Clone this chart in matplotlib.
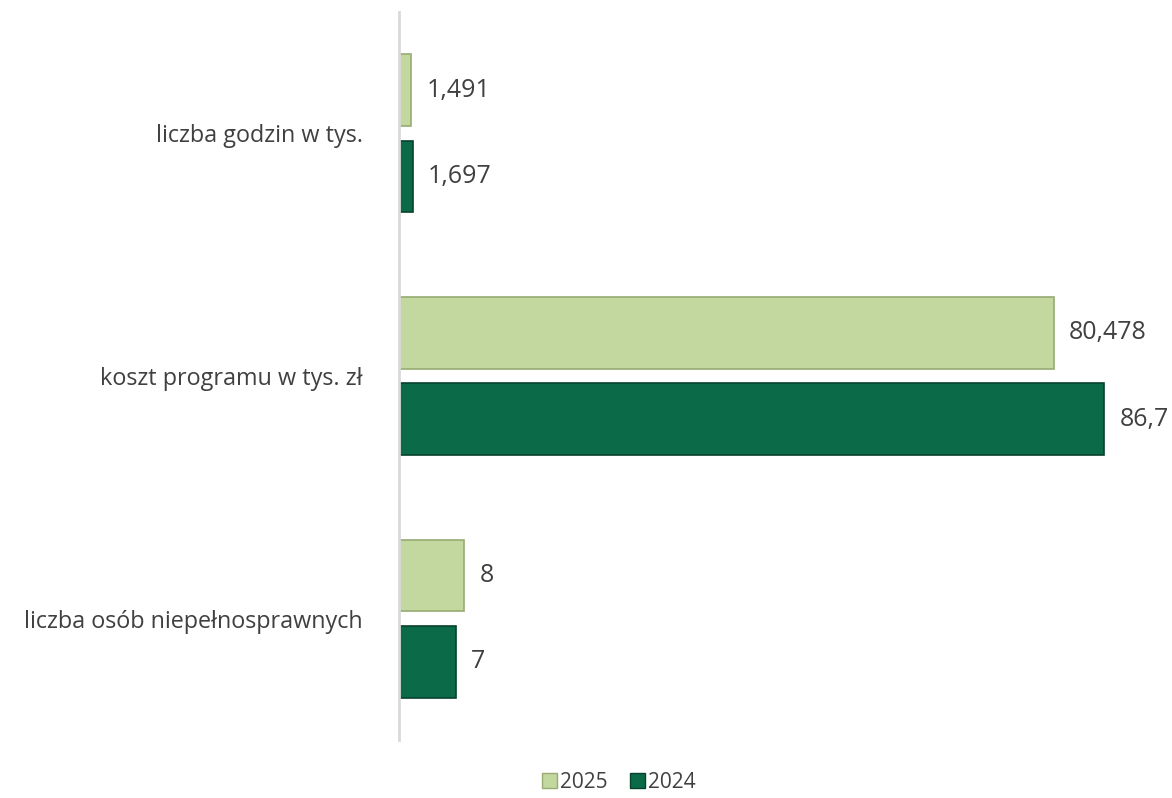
import matplotlib.pyplot as plt
from matplotlib.patches import Patch

plt.rcParams['font.family'] = ['Open Sans', 'DejaVu Sans']

categories = ['liczba osób niepełnosprawnych', 'koszt programu w tys. zł', 'liczba godzin w tys.']
vals_2025 = [8, 80.478, 1.491]
vals_2024 = [7, 86.7, 1.697]
labels_2025 = ['8', '80,478', '1,491']
labels_2024 = ['7', '86,7', '1,697']

light = '#c3d89f'
light_edge = '#97ab72'
dark = '#0b6a47'
dark_edge = '#07432c'
txt = '#404040'

fig = plt.figure(figsize=(11.72, 7.98), dpi=100)
ax = fig.add_axes([0.3404, 0.0727, 0.6596, 0.9123])

h = 0.296
off = 0.178
y = list(range(len(categories)))

ax.barh([p + off for p in y], vals_2025, height=h, color=light, edgecolor=light_edge, linewidth=1.2, label='2025')
ax.barh([p - off for p in y], vals_2024, height=h, color=dark, edgecolor=dark_edge, linewidth=1.2, label='2024')

for p, v, s in zip(y, vals_2025, labels_2025):
    ax.annotate(s, (v, p + off), xytext=(11, 0), textcoords='offset points',
                va='center', ha='left', fontsize=18, color=txt, annotation_clip=False)
for p, v, s in zip(y, vals_2024, labels_2024):
    ax.annotate(s, (v, p - off), xytext=(11, 0), textcoords='offset points',
                va='center', ha='left', fontsize=18, color=txt, annotation_clip=False)

ax.set_xlim(0, 95)
ax.set_ylim(-0.5, 2.5)
ax.set_yticks(y)
ax.set_yticklabels(categories, fontsize=16.8, color=txt)
ax.tick_params(axis='y', length=0, pad=26)
ax.set_xticks([])
for s in ['top', 'right', 'bottom']:
    ax.spines[s].set_visible(False)
ax.spines['left'].set_color('#d9d9d9')
ax.spines['left'].set_linewidth(2)

handles = [Patch(facecolor=light, edgecolor=light_edge, label='2025'),
           Patch(facecolor=dark, edgecolor=dark_edge, label='2024')]
fig.legend(handles=handles, loc='center', bbox_to_anchor=(0.528, 0.02), ncol=2,
           frameon=False, fontsize=15, handlelength=0.7, handleheight=0.7,
           handletextpad=0.15, columnspacing=1.1, labelcolor=txt,
           borderpad=0.1)

fig.savefig('out.png', dpi=100)
